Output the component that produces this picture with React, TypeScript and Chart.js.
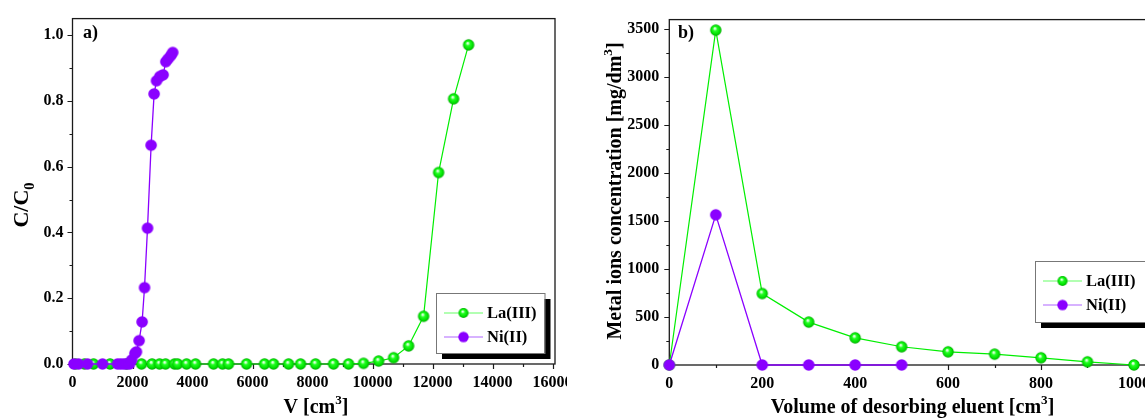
import React, { useEffect, useRef } from "react";
import { Chart, registerables } from "chart.js";
Chart.register(...registerables);

// ---------- Panel a) breakthrough curves ----------
const SERIES_NAMES = ["La(III)", "Ni(II)"];

const A_LA_V = [100, 400, 700, 1250, 1800, 2300, 2650, 2900, 3100, 3400, 3500, 3800, 4100, 4700, 5000, 5200, 5800, 6400, 6700, 7200, 7600, 8100, 8700, 9200, 9700, 10200, 10700, 11200, 11700, 12200, 12700, 13200];
const A_LA_C = [0, 0, 0, 0, 0, 0, 0, 0, 0, 0, 0, 0, 0, 0, 0, 0, 0, 0, 0, 0, 0, 0, 0, 0, 0.002, 0.009, 0.019, 0.055, 0.145, 0.582, 0.806, 0.97];

const A_NI_V = [50, 200, 500, 1000, 1500, 1600, 1700, 1800, 1900, 1970, 2080, 2130, 2220, 2320, 2400, 2500, 2620, 2720, 2800, 2910, 3020, 3110, 3190, 3280, 3340];
const A_NI_C = [0, 0, 0, 0, 0, 0, 0, 0, 0, 0.012, 0.032, 0.037, 0.071, 0.128, 0.232, 0.413, 0.665, 0.821, 0.861, 0.874, 0.879, 0.919, 0.928, 0.938, 0.947];

const A_X_TICKS = [0, 2000, 4000, 6000, 8000, 10000, 12000, 14000, 16000];
const A_Y_TICKS = [0, 0.2, 0.4, 0.6, 0.8, 1.0];

// ---------- Panel b) desorption ----------
const B_VOL = [0, 100, 200, 300, 400, 500, 600, 700, 800, 900, 1000];
const B_LA = [0, 3490, 745, 447, 283, 190, 137, 113, 75, 33, 0];
const B_NI_VOL = [0, 100, 200, 300, 400, 500];
const B_NI = [0, 1565, 0, 0, 0, 0];

const B_X_TICKS = [0, 200, 400, 600, 800, 1000];
const B_Y_TICKS = [0, 500, 1000, 1500, 2000, 2500, 3000, 3500];

const GREEN_LINE = "#00ee00";
const PURPLE = "#8a00ff";
const FONT = "'Liberation Serif', 'Times New Roman', serif";

function makeSphere(r: number) {
  const s = Math.ceil(r * 2 + 2);
  const c = document.createElement("canvas");
  c.width = s;
  c.height = s;
  const g = c.getContext("2d")!;
  const cx = s / 2, cy = s / 2;
  const grad = g.createRadialGradient(cx - r * 0.2, cy - r * 0.35, 0, cx, cy, r);
  grad.addColorStop(0, "#ffffff");
  grad.addColorStop(0.16, "#c8ffc8");
  grad.addColorStop(0.38, "#22ff22");
  grad.addColorStop(0.8, "#00dd00");
  grad.addColorStop(1, "#00a400");
  g.fillStyle = grad;
  g.beginPath();
  g.arc(cx, cy, r, 0, Math.PI * 2);
  g.fill();
  return c;
}

function makeDisc(r: number, color: string) {
  const s = Math.ceil(r * 2 + 2);
  const c = document.createElement("canvas");
  c.width = s;
  c.height = s;
  const g = c.getContext("2d")!;
  g.fillStyle = color;
  g.beginPath();
  g.arc(s / 2, s / 2, r, 0, Math.PI * 2);
  g.fill();
  return c;
}

type Seg = { t: string; sup?: boolean; sub?: boolean };

function drawRich(ctx: CanvasRenderingContext2D, segs: Seg[], x: number, y: number, size: number, rotate: boolean) {
  ctx.save();
  ctx.translate(x, y);
  if (rotate) ctx.rotate(-Math.PI / 2);
  ctx.fillStyle = "#000";
  ctx.textBaseline = "alphabetic";
  ctx.textAlign = "left";
  const small = size * 0.66;
  let total = 0;
  for (const s of segs) {
    ctx.font = `bold ${s.sup || s.sub ? small : size}px ${FONT}`;
    total += ctx.measureText(s.t).width;
  }
  let cur = -total / 2;
  for (const s of segs) {
    ctx.font = `bold ${s.sup || s.sub ? small : size}px ${FONT}`;
    const dy = s.sup ? -size * 0.45 : s.sub ? size * 0.28 : 0;
    ctx.fillText(s.t, cur, dy);
    cur += ctx.measureText(s.t).width;
  }
  ctx.restore();
}

const decor = {
  id: "decor",
  beforeDatasetsDraw(chart: any, _args: any, o: any) {
    const { ctx, chartArea: a, scales } = chart;
    const x = scales.x, y = scales.y;
    ctx.save();
    ctx.strokeStyle = "#1a1a1a";
    ctx.lineWidth = 1.3;
    ctx.strokeRect(a.left, a.top, a.right - a.left, a.bottom - a.top);
    ctx.lineWidth = 1.2;
    ctx.beginPath();
    for (let i = 0; i * o.xMinor <= x.max + 1e-9; i++) {
      const v = i * o.xMinor;
      const major = i % Math.round(o.xMajor / o.xMinor) === 0;
      const px = Math.round(x.getPixelForValue(v)) + 0.5;
      ctx.moveTo(px, a.bottom);
      ctx.lineTo(px, a.bottom + (major ? 5 : 3));
    }
    for (let i = 0; i * o.yMinor <= y.max + 1e-9; i++) {
      const v = i * o.yMinor;
      const major = i % Math.round(o.yMajor / o.yMinor) === 0;
      const py = Math.round(y.getPixelForValue(v)) + 0.5;
      ctx.moveTo(a.left, py);
      ctx.lineTo(a.left - (major ? 5 : 3), py);
    }
    ctx.stroke();
    ctx.restore();
  },
  afterDraw(chart: any, _args: any, o: any) {
    const { ctx } = chart;
    drawRich(ctx, o.xTitle, o.xTitlePos[0], o.xTitlePos[1], 20, false);
    drawRich(ctx, o.yTitle, o.yTitlePos[0], o.yTitlePos[1], o.yTitleSize, true);
    ctx.save();
    ctx.fillStyle = "#000";
    ctx.font = `bold 18px ${FONT}`;
    ctx.textBaseline = "alphabetic";
    ctx.fillText(o.label, o.labelPos[0], o.labelPos[1]);
    ctx.restore();
    const [L, T, W, H] = o.legendBox;
    ctx.save();
    ctx.fillStyle = "#000";
    ctx.fillRect(L + 6, T + 6, W, H);
    ctx.fillStyle = "#fff";
    ctx.fillRect(L, T, W, H);
    ctx.strokeStyle = "#777";
    ctx.lineWidth = 1;
    ctx.strokeRect(L + 0.5, T + 0.5, W, H);
    const rows = [
      { name: SERIES_NAMES[0], color: "#66ff66", img: legendSphere },
      { name: SERIES_NAMES[1], color: "#b066ff", img: legendDisc },
    ];
    rows.forEach((r, i) => {
      const ry = T + 20 + i * 24;
      ctx.strokeStyle = r.color;
      ctx.lineWidth = 1.2;
      ctx.beginPath();
      ctx.moveTo(L + 8, ry);
      ctx.lineTo(L + 47, ry);
      ctx.stroke();
      ctx.drawImage(r.img, L + 27.5 - r.img.width / 2, ry - r.img.height / 2);
      ctx.fillStyle = "#000";
      ctx.font = `bold 16.5px ${FONT}`;
      ctx.textBaseline = "middle";
      ctx.fillText(r.name, L + 51, ry + 1);
    });
    ctx.restore();
  },
};

const sphere = makeSphere(5.7);
const disc = makeDisc(5.8, PURPLE);
const legendSphere = makeSphere(5);
const legendDisc = makeDisc(5.2, PURPLE);

const tickFont = { family: FONT, size: 16, weight: "bold" as const };

function baseScales(xMin: number, xMax: number, yMin: number, yMax: number, xTicks: number[], yTicks: number[], yWidth: number, xHeight: number, yPad: number, xPad: number, yFmt: (v: number) => string) {
  return {
    x: {
      type: "linear" as const,
      min: xMin,
      max: xMax,
      grid: { display: false, drawTicks: false },
      border: { display: false },
      afterBuildTicks: (s: any) => { s.ticks = xTicks.map((v) => ({ value: v })); },
      afterFit: (s: any) => { s.height = xHeight; },
      ticks: { font: tickFont, color: "#000", padding: xPad, maxRotation: 0, autoSkip: false, callback: (v: any) => String(v) },
    },
    y: {
      type: "linear" as const,
      min: yMin,
      max: yMax,
      grid: { display: false, drawTicks: false },
      border: { display: false },
      afterBuildTicks: (s: any) => { s.ticks = yTicks.map((v) => ({ value: v })); },
      afterFit: (s: any) => { s.width = yWidth; },
      ticks: { font: tickFont, color: "#000", padding: yPad, autoSkip: false, callback: (v: any) => yFmt(Number(v)) },
    },
  };
}

function configA(): any {
  return {
    type: "line",
    data: {
      datasets: [
        {
          label: SERIES_NAMES[0],
          data: A_LA_V.map((v, i) => ({ x: v, y: A_LA_C[i] })),
          borderColor: GREEN_LINE,
          borderWidth: 1.2,
          pointStyle: sphere,
          order: 1,
          clip: false,
        },
        {
          label: SERIES_NAMES[1],
          data: A_NI_V.map((v, i) => ({ x: v, y: A_NI_C[i] })),
          borderColor: PURPLE,
          borderWidth: 1.3,
          pointStyle: disc,
          order: 0,
          clip: false,
        },
      ],
    },
    options: {
      responsive: false,
      animation: false,
      events: [],
      layout: { padding: { left: 0, top: 16, right: 45, bottom: 0 } },
      scales: baseScales(0, 16080, 0, 1.05, A_X_TICKS, A_Y_TICKS, 72.5, 55, 9, 9.5, (v) => v.toFixed(1)),
      plugins: {
        legend: { display: false },
        tooltip: { enabled: false },
        decor: {
          xMajor: 2000, xMinor: 1000, yMajor: 0.2, yMinor: 0.1,
          xTitle: [{ t: "V [cm" }, { t: "3", sup: true }, { t: "]" }],
          xTitlePos: [316, 413],
          yTitle: [{ t: "C/C" }, { t: "0", sub: true }],
          yTitleSize: 22,
          yTitlePos: [28, 205],
          label: "a)",
          labelPos: [83, 38],
          legendBox: [436, 293, 108.5, 60],
        },
      },
    },
    plugins: [decor],
  };
}

function configB(): any {
  return {
    type: "line",
    data: {
      datasets: [
        {
          label: SERIES_NAMES[0],
          data: B_VOL.map((v, i) => ({ x: v, y: B_LA[i] })),
          borderColor: GREEN_LINE,
          borderWidth: 1.2,
          pointStyle: sphere,
          order: 1,
          clip: false,
        },
        {
          label: SERIES_NAMES[1],
          data: B_NI_VOL.map((v, i) => ({ x: v, y: B_NI[i] })),
          borderColor: PURPLE,
          borderWidth: 1.3,
          pointStyle: disc,
          order: 0,
          clip: false,
        },
      ],
    },
    options: {
      responsive: false,
      animation: false,
      events: [],
      layout: { padding: { left: 0, top: 15, right: 42.8, bottom: 0 } },
      scales: baseScales(0, 1050, 0, 3600, B_X_TICKS, B_Y_TICKS, 69.3, 54, 10, 9.5, (v) => String(v)),
      plugins: {
        legend: { display: false },
        tooltip: { enabled: false },
        decor: {
          xMajor: 200, xMinor: 100, yMajor: 500, yMinor: 250,
          xTitle: [{ t: "Volume of desorbing eluent [cm" }, { t: "3", sup: true }, { t: "]" }],
          xTitlePos: [312.5, 413],
          yTitle: [{ t: "Metal ions concentration [mg/dm" }, { t: "3", sup: true }, { t: "]" }],
          yTitleSize: 20,
          yTitlePos: [21, 191],
          label: "b)",
          labelPos: [78, 38],
          legendBox: [435, 261, 112, 61],
        },
      },
    },
    plugins: [decor],
  };
}

export default function App() {
  const refA = useRef<HTMLCanvasElement>(null);
  const refB = useRef<HTMLCanvasElement>(null);
  useEffect(() => {
    const a = new Chart(refA.current!, configA());
    const b = new Chart(refB.current!, configB());
    return () => {
      a.destroy();
      b.destroy();
    };
  }, []);
  return (
    <div style={{ position: "absolute", left: 0, top: 0, width: 1145, height: 419, overflow: "hidden", background: "#fff" }}>
      <div style={{ position: "absolute", left: 0, top: 0, width: 567, height: 419, overflow: "hidden" }}>
        <canvas ref={refA} width={600} height={419} style={{ display: "block" }} />
      </div>
      <div style={{ position: "absolute", left: 600, top: 0, width: 545, height: 419, overflow: "hidden" }}>
        <canvas ref={refB} width={600} height={419} style={{ display: "block" }} />
      </div>
    </div>
  );
}
